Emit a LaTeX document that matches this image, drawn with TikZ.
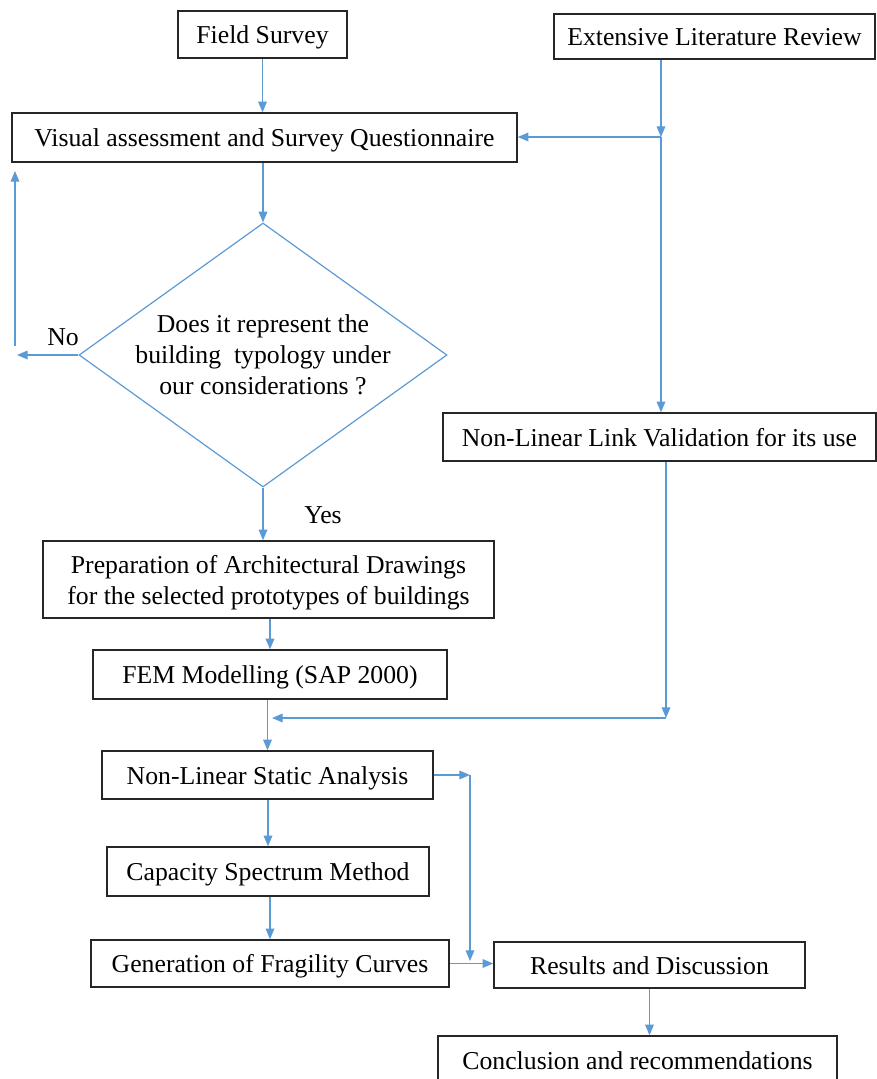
\documentclass[tikz,border=0pt]{standalone}
\usepackage{fontspec}
\setmainfont{Liberation Serif}
\usetikzlibrary{arrows.meta,shapes.geometric}
\definecolor{flowblue}{RGB}{91,155,213}
\begin{document}
\begin{tikzpicture}[x=0.75pt,y=-0.75pt,
  font=\fontsize{19.3}{23.3}\selectfont,
  >={Triangle[length=8pt,width=6.5pt]},
  box/.style={draw=black!85,line width=1.1pt,rectangle,inner sep=0pt,align=center},
  onebox/.style={draw=black!85,line width=1.1pt,rectangle,inner sep=0pt,text height=14.2pt,text depth=0pt},
  decision/.style={draw=flowblue,line width=0.9pt,diamond,inner sep=0pt},
  link/.style={draw=flowblue,line width=0.9pt}]
\useasboundingbox (0,0) rectangle (877,1079);

% boxes
\node[onebox,minimum width=126.75pt,minimum height=35.25pt] (fs) at (262.5,34.5) {Field Survey};
\node[onebox,minimum width=240.75pt,minimum height=33.75pt] (elr) at (714.5,36.5) {Extensive Literature Review};
\node[onebox,minimum width=378.75pt,minimum height=36.75pt] (vas) at (264.5,137.5) {Visual assessment and Survey Questionnaire};
\node[decision,minimum width=276pt,minimum height=198pt] (dec) at (263,355) {};
\node[align=center] (dectext) at (dec.center) {Does it represent the\\building~ typology under\\our considerations ?};
\node[onebox,minimum width=324.75pt,minimum height=36pt] (lnk) at (659.5,437) {Non-Linear Link Validation for its use};
\node[box,minimum width=338.25pt,minimum height=57.75pt] (prep) at (268.5,579.5) {};
\node[align=center] (preptext) at ([yshift=-2.25pt]prep.center) {Preparation of Architectural Drawings\\for the selected prototypes of buildings};
\node[onebox,minimum width=265.5pt,minimum height=36.75pt] (fem) at (270,674.5) {FEM Modelling (SAP 2000)};
\node[onebox,minimum width=248.25pt,minimum height=36pt] (nlsa) at (267.5,775) {Non-Linear Static Analysis};
\node[onebox,minimum width=241.5pt,minimum height=36.75pt] (csm) at (268,871.5) {Capacity Spectrum Method};
\node[onebox,minimum width=268.5pt,minimum height=35.25pt] (gfc) at (270,963.5) {Generation of Fragility Curves};
\node[onebox,minimum width=233.25pt,minimum height=34.5pt] (res) at (649.5,965) {Results and Discussion};
\node[onebox,minimum width=299.25pt,minimum height=36pt] (conc) at (637.5,1060) {Conclusion and recommendations};

\node (no) at (63,337) {No};
\node (yes) at (323,515) {Yes};

% junctions
\coordinate (j1) at (661,137);
\coordinate (nol) at (17,355);
\coordinate (nob) at (15,346);
\coordinate (not) at (15,171);
\coordinate (j2) at (666,718);
\coordinate (j3) at (272,718);
\coordinate (j4) at (470,775);
\coordinate (j5) at (470,961);

% connectors
\draw[link,->] (fs.south) -- (fs.south |- vas.north);
\draw[link,->] (elr.south -| j1) -- (j1);
\draw[link,->] (j1) -- (vas.east |- j1);
\draw[link,->] (j1) -- (j1 |- lnk.north);
\draw[link,->] (vas.south -| dec.north) -- (dec.north);
\draw[link,->] (dec.west) -- (nol);
\draw[link,->] (nob) -- (not);
\draw[link,->] (dec.south) -- (dec.south |- prep.north);
\draw[link,->] (prep.south -| fem.north) -- (fem.north);
\draw[link,->] (lnk.south -| j2) -- (j2);
\draw[link,->] (j2) -- (j3);
\draw[link,->] (fem.south -| nlsa.north) -- (nlsa.north);
\draw[link,->] (nlsa.east) -- (j4);
\draw[link,->] (j4) -- (j5);
\draw[link,->] (nlsa.south -| csm.north) -- (csm.north);
\draw[link,->] (csm.south -| gfc.north) -- (gfc.north);
\draw[link,->] (gfc.east) -- (gfc.east -| res.west);
\draw[link,->] (res.south) -- (res.south |- conc.north);
\end{tikzpicture}
\end{document}
